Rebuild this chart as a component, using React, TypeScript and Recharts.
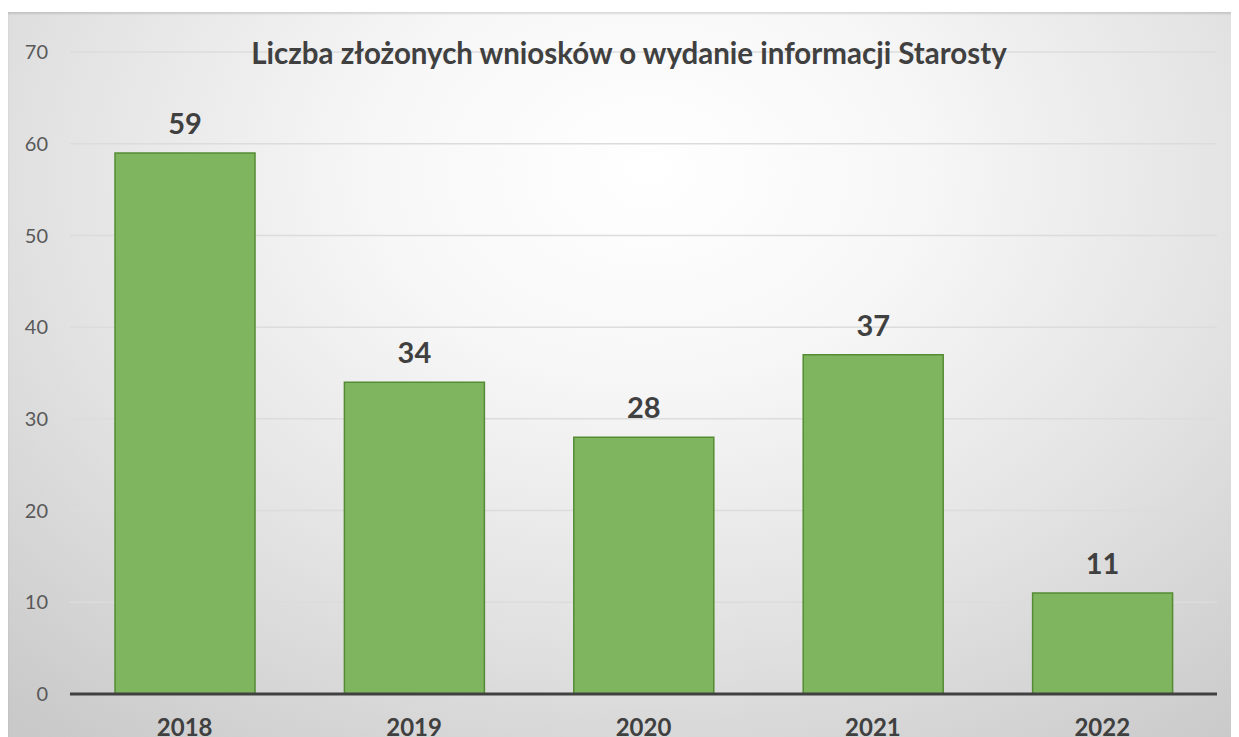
import React from 'react';
import { BarChart, Bar, XAxis, YAxis, CartesianGrid, LabelList } from 'recharts';

const years = ['2018', '2019', '2020', '2021', '2022'];
const counts = [59, 34, 28, 37, 11];
const yTicks = [0, 10, 20, 30, 40, 50, 60, 70];
const title = 'Liczba złożonych wniosków o wydanie informacji Starosty';

const data = years.map((y, i) => ({ year: y, value: counts[i] }));

const FONT = 'Lato, "Liberation Sans", sans-serif';

export default function App() {
  return (
    <div
      style={{
        position: 'relative',
        width: 1231,
        height: 725,
        marginTop: 4,
        background:
          'radial-gradient(ellipse 78% 100% at 52% 22%, #ffffff 0%, #f7f7f7 28%, #e3e3e3 62%, #c9c9c9 100%)',
        boxShadow: 'inset 0 2px 2px rgba(0,0,0,0.12)',
        overflow: 'hidden',
        fontFamily: FONT,
      }}
    >
      <BarChart
        width={1231}
        height={725}
        data={data}
        margin={{ top: 40, right: 22, bottom: 0, left: 0 }}
      >
        <CartesianGrid vertical={false} stroke="#dcdcdc" strokeWidth={1.5} />
        <XAxis
          dataKey="year"
          height={43}
          axisLine={{ stroke: '#404040', strokeWidth: 3 }}
          tickLine={false}
          tickMargin={19}
          tick={{ fill: '#404040', fontSize: 24, fontWeight: 700, fontFamily: FONT }}
        />
        <YAxis
          width={62}
          domain={[0, 70]}
          ticks={yTicks}
          axisLine={false}
          tickLine={false}
          tickMargin={16}
          tick={{ fill: '#595959', fontSize: 20, fontFamily: FONT }}
        />
        <Bar
          dataKey="value"
          fill="#7fb55f"
          stroke="#548c34"
          strokeWidth={1.5}
          barSize={140}
          isAnimationActive={false}
        >
          <LabelList
            dataKey="value"
            position="top"
            offset={19}
            style={{ fill: '#404040', fontSize: 29, fontWeight: 700, fontFamily: FONT }}
          />
        </Bar>
      </BarChart>
      <div
        style={{
          position: 'absolute',
          top: 23,
          left: 0,
          width: 1242,
          textAlign: 'center',
          fontSize: 29.5,
          fontWeight: 700,
          color: '#404040',
          fontFamily: FONT,
          whiteSpace: 'nowrap',
        }}
      >
        {title}
      </div>
    </div>
  );
}
